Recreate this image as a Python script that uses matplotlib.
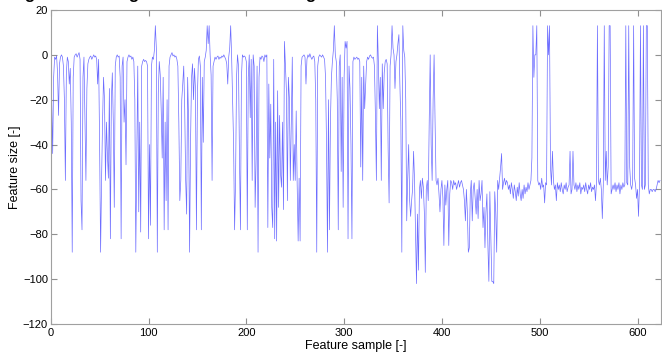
import numpy as np
import matplotlib
matplotlib.use("Agg")
import matplotlib.pyplot as plt

# feature size per sample
feature_size = [
    -3, -20, -44, -10, -1, -2, -0.5, -8, -27, -4,
    -1, 0, -1, -5, -20, -56, -8, -1, -3, -13,
    -6, -30, -88, -10, -1, 0, 0.5, -1, 0, 1,
    -2, -65, -78, -10, -1, -30, -56, -15, -4, -2,
    -1, -0.5, -2, -1, 0, -1, -0.5, -2, -13, -2,
    -40, -88, -56, -30, -10, -20, -56, -30, -45, -55,
    -15, -82, -20, -8, -30, -68, -5, -1, 0, -1,
    -0.5, -10, -82, -5, -1, -30, -20, -49, -3, -1,
    0, -1, -0.5, -2, -1, -3, -20, -88, -45, -5,
    -70, -30, -79, -5, -3, -2, -3, -2.5, -3, -5,
    -82, -40, -76, -5, -1, -2, 2, 13, 3, -88,
    -17, -3, -9, -25, -46, -10, -78, -30, -65, -20,
    -78, -5, -1, 0, 1, -0.5, 0, -1, -0.5, -2,
    -5, -30, -65, -56, -20, -13, -5, -24, -56, -71,
    -10, -30, -88, -38, -10, -4, -20, -6, -15, -78,
    -18, -2, -0.5, -5, -78, -10, -39, -3, -1, 2,
    13, 5, 13, 0, -9, -56, -5, -3, -1, -2,
    -1, -0.5, -2, -1, -1.5, -0.5, -1, 0, -1, -2,
    -4, -13, -1, 3, 13, -1, -20, -40, -78, -56,
    -10, 0, -5, -46, -78, -10, 0, -1, -0.5, -1,
    -3, -78, -10, 0, -28, -2, -56, 0, -5, -68,
    -47, -5, -88, -10, -1, -2, -0.5, -1, -3, 0,
    -1, 0, -77, -13, -46, -22, -68, -77, -2, -82,
    -30, -83, -16, -68, -27, -53, -59, -30, -69, 6,
    -5, -16, -65, -10, -19, -56, -30, -1, -56, -40,
    -56, -25, -58, -83, -55, -83, -5, -1, -0.5, 0,
    -1, -13, -2, 0, -1, 0.5, -1, -2, -1, -0.5,
    -3, -20, -88, -5, -1, 0, -0.5, -1, 0, -1,
    -2, -10, -40, -88, -20, -78, -30, -10, -3, 2,
    13, 0, -3, -20, -78, -5, 0, -52, -10, -68,
    -10, 6, 3, 6, -82, -5, -15, -40, -82, -3,
    -1, -2, -1.5, -1, -2, -1.5, -3, -50, -10, -56,
    -5, -24, -13, -3, -1, -2, -0.5, 0, -1, -1.5,
    -1, -5, -27, -56, 13, -3, -24, -10, -56, -4,
    -24, -8, -3, -2, -4, -42, -66, -5, 0, 13,
    3, 0, -15, -3, 0, 5, 9, -13, -30, -88,
    13, 2, -1, -20, -74, -55, -40, -65, -72, -65,
    -60, -43, -56, -80, -102, -71, -96, -60, -56, -64,
    -55, -59, -70, -97, -60, -56, -65, -30, 0, -40,
    -56, -20, 0, -30, -56, -58, -55, -62, -70, -60,
    -56, -64, -85, -58, -67, -60, -56, -85, -62, -56,
    -57, -60, -56, -58, -57, -60, -58, -56, -59, -57,
    -56, -58, -60, -65, -74, -60, -70, -88, -86, -62,
    -56, -74, -60, -57, -64, -71, -60, -73, -56, -65,
    -62, -56, -77, -68, -86, -70, -62, -85, -101, -61,
    -80, -101, -101, -102, -61, -70, -88, -56, -60, -55,
    -50, -44, -60, -57, -55, -58, -56, -57, -60, -58,
    -62, -57, -60, -64, -58, -61, -65, -59, -63, -57,
    -62, -65, -60, -64, -58, -62, -59, -61, -57, -60,
    -58, -56, -46, 13, -10, 0, 0, 13, -56, -58,
    -57, -60, -55, -59, -58, -66, -57, -58, 13, 0,
    13, -50, -58, -43, -56, -60, -58, -65, -57, -60,
    -58, -61, -57, -60, -62, -58, -60, -57, -61, -59,
    -58, -43, -62, -60, -43, -58, -60, -57, -61, -58,
    -60, -57, -62, -59, -60, -58, -61, -57, -60, -62,
    -58, -60, -57, -61, -59, -60, -58, -65, -57, 13,
    -56, -58, -55, -60, -73, -58, 13, -56, -43, -58,
    -50, 13, 13, -62, -60, -58, -60, -57, -61, -58,
    -60, -57, -62, -58, -60, -57, -59, -58, 13, -57,
    -58, 13, -50, -58, -60, -57, 13, -55, -58, -64,
    -60, -72, -58, 13, -58, -60, 13, -60, -58, 13,
    13, -58, -62, -60, -60, -61, -60, -60, -61, -60,
    -58, -56, -57, -56,
]
samples = np.arange(len(feature_size))

x_ticks = [0, 100, 200, 300, 400, 500, 600]
y_ticks = [20, 0, -20, -40, -60, -80, -100, -120]

plt.rcParams['font.family'] = ['Liberation Sans', 'DejaVu Sans']

fig = plt.figure(figsize=(6.62, 3.56), dpi=100)
ax = fig.add_axes([0.0766, 0.0899, 0.9219, 0.882])

ax.plot(samples, feature_size, color='#4848ff', lw=0.5, alpha=0.8)

ax.set_xlim(0, 624)
ax.set_ylim(-120, 20)
ax.set_xticks(x_ticks)
ax.set_yticks(y_ticks)
ax.tick_params(direction='in', length=4, width=0.8, color='#909090',
               labelsize=8, top=True, right=True)
ax.tick_params(axis='x', pad=3)
ax.tick_params(axis='y', pad=2)
for s in ax.spines.values():
    s.set_color('#a0a0a0')
    s.set_linewidth(0.8)

ax.set_xlabel('Feature sample [-]', fontsize=9, labelpad=1)
ax.set_ylabel('Feature size [-]', fontsize=9, labelpad=1)

# title cut off at the top of the picture, only descenders visible
for xp in [29.5, 133, 310]:
    fig.text(xp / 662, 1.0 + 1.5 / 356, 'g', fontsize=12, ha='center',
             va='baseline', fontweight='bold')

fig.savefig('out.png', dpi=100)
